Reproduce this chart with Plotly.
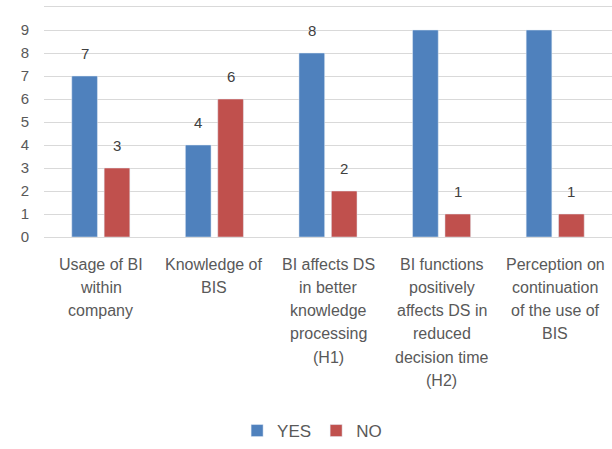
import plotly.graph_objects as go

categories = ["Usage of BI within company", "Knowledge of BIS",
              "BI affects DS in better knowledge processing (H1)",
              "BI functions positively affects DS in reduced decision time (H2)",
              "Perception on continuation of the use of BIS"]
category_lines = [
    ["Usage of BI", "within", "company"],
    ["Knowledge of", "BIS"],
    ["BI affects DS", "in better", "knowledge", "processing", "(H1)"],
    ["BI functions", "positively", "affects DS in", "reduced", "decision time", "(H2)"],
    ["Perception on", "continuation", "of the use of", "BIS"],
]
yes_values = [7, 4, 8, 9, 9]
no_values = [3, 6, 2, 1, 1]
y_ticks = list(range(0, 10))
y_ticktext = [str(v) for v in y_ticks]

BLUE = "#4F81BD"
RED = "#C0504D"
GRAY = "#595959"
FONT = "Liberation Sans"

fig = go.Figure()
fig.add_trace(go.Bar(name="YES", x=categories, y=yes_values, marker_color=BLUE))
fig.add_trace(go.Bar(name="NO", x=categories, y=no_values, marker_color=RED))

annotations = []
# data labels
for series, shift in ((yes_values, -16.2), (no_values, 16.2)):
    for cat, v in zip(categories, series):
        if v >= 9:
            continue
        annotations.append(dict(x=cat, y=v, xref="x", yref="y", text=str(v),
                                showarrow=False, xshift=shift, yshift=23,
                                yanchor="middle",
                                font=dict(family=FONT, size=15, color="#404040")))
# category labels (one line each)
for cat, lines in zip(categories, category_lines):
    for i, line in enumerate(lines):
        annotations.append(dict(x=cat, y=0, xref="x", yref="paper", text=line,
                                showarrow=False, yshift=-(27 + i * 23.3),
                                yanchor="middle",
                                font=dict(family=FONT, size=16, color=GRAY)))

fig.update_layout(
    width=612, height=449,
    margin=dict(l=44, r=0, t=7, b=211),
    paper_bgcolor="white", plot_bgcolor="white",
    barmode="group", bargap=0.43, bargroupgap=0.207,
    showlegend=True,
    legend=dict(orientation="h", x=0.472, xanchor="center", y=-0.84, yanchor="middle",
                font=dict(family=FONT, size=17, color=GRAY),
                itemwidth=30, tracegroupgap=0),
    annotations=annotations,
    font=dict(family=FONT, color=GRAY),
)
fig.update_xaxes(showticklabels=False, showgrid=False,
                 showline=True, mirror=True, linecolor="#D9D9D9", linewidth=1)
fig.update_yaxes(range=[0, 10], tickvals=y_ticks, ticktext=y_ticktext,
                 showgrid=True, gridcolor="#D9D9D9", gridwidth=1,
                 zeroline=True, zerolinecolor="#D9D9D9", zerolinewidth=1,
                 tickfont=dict(family=FONT, size=15, color=GRAY),
                 ticklabelstandoff=14)

fig.write_html("out.html")
